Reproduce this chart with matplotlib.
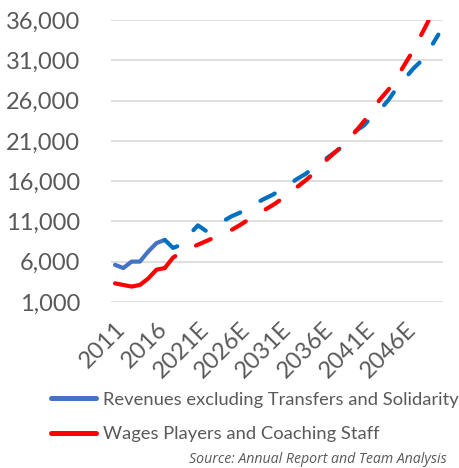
import matplotlib
matplotlib.use("Agg")
import matplotlib.pyplot as plt
import numpy as np
from matplotlib.lines import Line2D

# ---- data ----
categories = [str(y) for y in range(2011, 2021)] + [f"{y}E" for y in range(2021, 2051)]
tick_labels = ["2011", "2016", "2021E", "2026E", "2031E", "2036E", "2041E", "2046E"]

revenues_hist = [5600, 5200, 6000, 6000, 7250, 8300, 8700]          # 2011-2017
revenues_fcst = [8700, 7700, 8100, 9400, 10500, 9800, 10400, 11000, 11600, 12050,
                 12650, 13250, 13800, 14300, 14900, 15600, 16300, 16900, 17700, 18450,
                 19200, 19950, 21000, 22200, 22900, 24000, 24900, 26100, 27600, 28800,
                 30000, 31000, 32500, 34200]                          # 2017-2050
wages_hist = [3300, 3100, 2900, 3100, 3900, 5000, 5200]             # 2011-2017
wages_fcst = [5200, 6500, 7200, 7650, 8100, 8550, 9000, 9450, 9900, 10500,
              11150, 11750, 12400, 13000, 13700, 14500, 15300, 16100, 17000, 18150,
              19100, 20000, 21100, 22150, 23400, 24800, 26200, 27400, 28900, 30600,
              32300, 34300, 36300, 38400]                             # 2017-2050

series_names = ["Revenues excluding Transfers and Solidarity",
                "Wages Players and Coaching Staff"]
source_text = "Source: Annual Report and Team Analysis"

# ---- style ----
FONT = ["Lato", "DejaVu Sans"]
TXT = "#595959"
BLUE_H = "#4472C4"
BLUE_F = "#0070C0"
RED = "#FF0000"

fig = plt.figure(figsize=(4.6, 4.68), dpi=100)
ax = fig.add_axes([0.241, 0.355, 0.721, 0.602])

x = np.arange(len(categories))
n_hist = len(revenues_hist)
xh = x[:n_hist]
xf = x[n_hist - 1:]

lw = 3.0
dash = (0, (3.85, 5.6))
ax.plot(xh, revenues_hist, color=BLUE_H, lw=lw, solid_capstyle="round",
        solid_joinstyle="round")
ax.plot(xf, revenues_fcst, color=BLUE_F, lw=lw, linestyle=dash,
        dash_capstyle="round", dash_joinstyle="round")
ax.plot(xh, wages_hist, color=RED, lw=lw, solid_capstyle="round",
        solid_joinstyle="round")
ax.plot(xf, wages_fcst, color=RED, lw=lw, linestyle=dash,
        dash_capstyle="round", dash_joinstyle="round")

ax.set_xlim(-0.5, len(categories) - 0.5)
ax.set_ylim(1000, 36000)
ax.set_yticks(np.arange(1000, 36001, 5000))
ax.set_yticklabels([f"{v:,}" for v in range(1000, 36001, 5000)],
                   fontsize=17, color=TXT, family=FONT)
ax.set_xticks(x[::5])
ax.set_xticklabels(tick_labels, rotation=45, ha="right", va="top",
                   rotation_mode="anchor", fontsize=17, color=TXT, family=FONT)
ax.tick_params(axis="both", length=0)
ax.tick_params(axis="y", pad=22)
ax.tick_params(axis="x", pad=12)
ax.grid(axis="y", color="#D9D9D9", lw=1.2)
ax.set_axisbelow(True)
for s in ax.spines.values():
    s.set_visible(False)

# legend
h1 = Line2D([], [], color=BLUE_H, lw=3.6, solid_capstyle="round")
h2 = Line2D([], [], color=RED, lw=3.6, solid_capstyle="round")
fig.legend([h1, h2], series_names, loc="upper left",
           bbox_to_anchor=(0.11, 0.163), frameon=False,
           prop={"family": FONT, "size": 13.2}, labelcolor=TXT,
           handlelength=2.5, handletextpad=0.35, labelspacing=1.02,
           borderpad=0, borderaxespad=0)

fig.text(0.972, 0.003, source_text, ha="right", va="bottom",
         fontsize=10.2, style="italic", color=TXT, family=["Open Sans", "DejaVu Sans"])

fig.savefig("out.png", dpi=100)
